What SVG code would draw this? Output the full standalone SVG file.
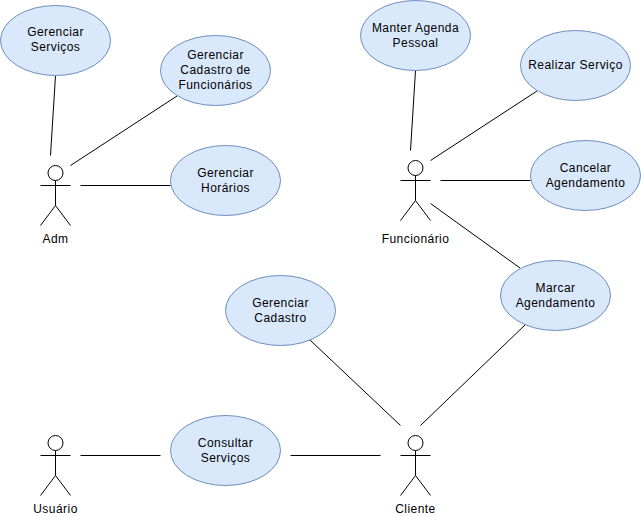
<svg xmlns="http://www.w3.org/2000/svg" width="641" height="517" viewBox="0 0 641 517">
<style>
.uc{fill:#dae8fc;stroke:#6c8ebf;stroke-width:1}
.ln{stroke:#000;stroke-width:1;fill:none}
.a{stroke:#000;stroke-width:1;fill:#fff}
text{font-family:"Liberation Sans",Arial,sans-serif;font-size:12px;letter-spacing:.45px;fill:#000;text-anchor:middle}
</style>
<defs>
<g id="actor"><circle class="a" cx="0" cy="7.5" r="7.5"/><path class="ln" d="M0 15V40M-15 20H15M-15 60L0 40L15 60"/></g>
</defs>
<rect width="641" height="517" fill="#fff"/>
<g id="connectors" class="ln">
<path d="M55.5 75.500L50.500 155.500"/>
<path d="M177 96L70.500 165.500"/>
<path d="M80.500 185.500H170.500"/>
<path d="M415.500 70.500L410.500 150.500"/>
<path d="M537 91L430.500 160.500"/>
<path d="M440.500 180.500H530.500"/>
<path d="M430.500 203.500L520 268"/>
<path d="M310 340L400.500 425.500"/>
<path d="M526 324L420.500 425.500"/>
<path d="M290.500 455.500H380.500"/>
<path d="M80.500 455.500H160.500"/>
</g>
<g id="uc-servicos"><ellipse class="uc" cx="55.500" cy="40.500" rx="55" ry="35"/><text x="55.500" y="36">Gerenciar</text><text x="55.500" y="51">Serviços</text></g>
<g id="uc-funcionarios"><ellipse class="uc" cx="215.500" cy="70.500" rx="55" ry="35"/><text x="215.500" y="59">Gerenciar</text><text x="215.500" y="74">Cadastro de</text><text x="215.500" y="89">Funcionários</text></g>
<g id="uc-horarios"><ellipse class="uc" cx="225.500" cy="180.500" rx="55" ry="35"/><text x="225.500" y="177">Gerenciar</text><text x="225.500" y="192">Horários</text></g>
<g id="uc-agenda"><ellipse class="uc" cx="415.500" cy="35.500" rx="55" ry="35"/><text x="415.500" y="32">Manter Agenda</text><text x="415.500" y="47">Pessoal</text></g>
<g id="uc-realizar"><ellipse class="uc" cx="575.500" cy="65.500" rx="55" ry="35"/><text x="575.500" y="69">Realizar Serviço</text></g>
<g id="uc-cancelar"><ellipse class="uc" cx="585.500" cy="175.500" rx="55" ry="35"/><text x="585.500" y="172">Cancelar</text><text x="585.500" y="187">Agendamento</text></g>
<g id="uc-marcar"><ellipse class="uc" cx="555.500" cy="295.500" rx="55" ry="35"/><text x="555.500" y="292">Marcar</text><text x="555.500" y="307">Agendamento</text></g>
<g id="uc-cadastro"><ellipse class="uc" cx="280.500" cy="310.500" rx="55" ry="35"/><text x="280.500" y="307">Gerenciar</text><text x="280.500" y="322">Cadastro</text></g>
<g id="uc-consultar"><ellipse class="uc" cx="225.500" cy="450.500" rx="55" ry="35"/><text x="225.500" y="447">Consultar</text><text x="225.500" y="462">Serviços</text></g>
<g id="actor-adm"><use href="#actor" x="55.500" y="165.500"/><text x="55.500" y="243">Adm</text></g>
<g id="actor-funcionario"><use href="#actor" x="415.500" y="160.500"/><text x="415.500" y="243">Funcionário</text></g>
<g id="actor-usuario"><use href="#actor" x="55.500" y="435.500"/><text x="55.500" y="513">Usuário</text></g>
<g id="actor-cliente"><use href="#actor" x="415.500" y="435.500"/><text x="415.500" y="513">Cliente</text></g>
</svg>
